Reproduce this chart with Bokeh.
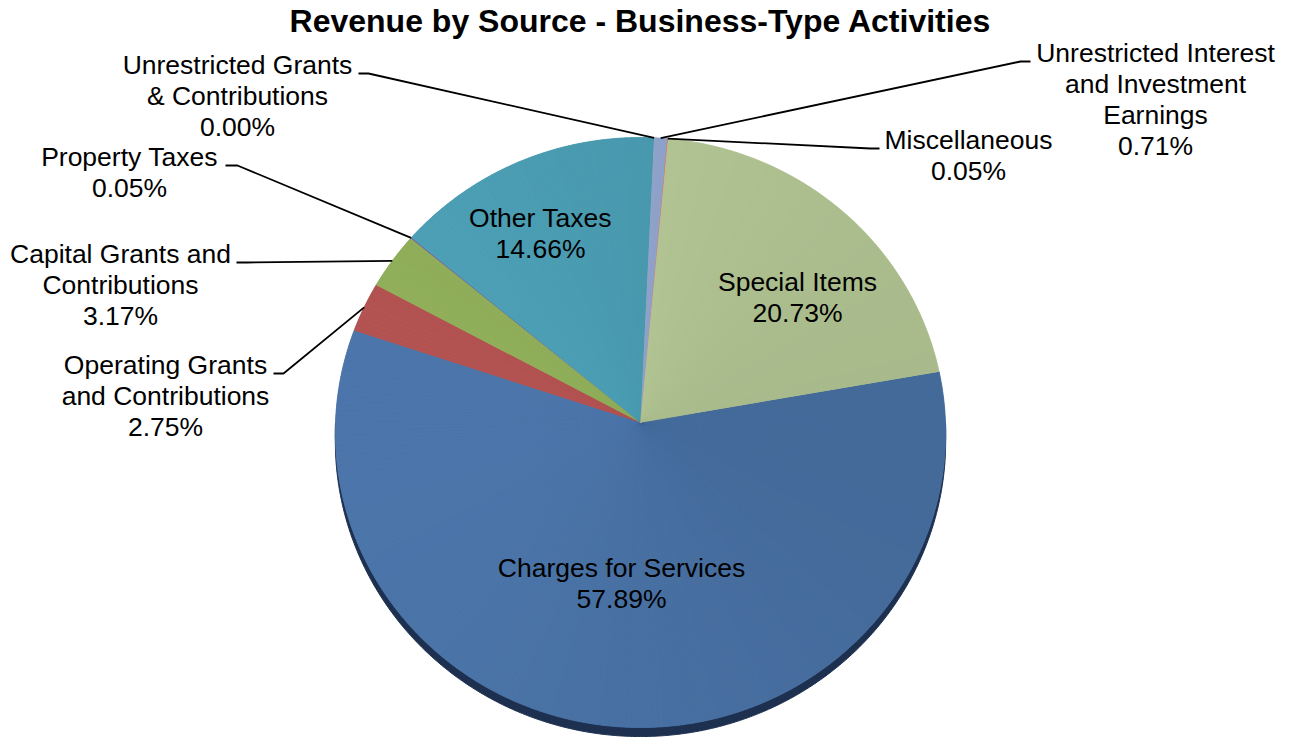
import math
from bokeh.plotting import figure
from bokeh.models import Range1d, ColumnDataSource
from bokeh.embed import file_html
from bokeh.resources import INLINE
from bokeh.core.properties import value

# ---------------- data ----------------
title_text = "Revenue by Source - Business-Type Activities"
categories = [
    "Charges for Services",
    "Operating Grants and Contributions",
    "Capital Grants and Contributions",
    "Property Taxes",
    "Other Taxes",
    "Unrestricted Grants & Contributions",
    "Unrestricted Interest and Investment Earnings",
    "Miscellaneous",
    "Special Items",
]
percents = [57.89, 2.75, 3.17, 0.05, 14.66, 0.00, 0.71, 0.05, 20.73]
label_lines = [
    ["Charges for Services"],
    ["Operating Grants", "and Contributions"],
    ["Capital Grants and", "Contributions"],
    ["Property Taxes"],
    ["Other Taxes"],
    ["Unrestricted Grants", "& Contributions"],
    ["Unrestricted Interest", "and Investment", "Earnings"],
    ["Miscellaneous"],
    ["Special Items"],
]
colors = ["#4870a2", "#aa4f4e", "#8aa756", "#7a5f99", "#4999ae",
          "#e08a3c", "#8fa2c9", "#d0807e", "#b2c493"]

# ---------------- layout ----------------
FIRST_ANGLE = 80.0          # first slice angle (degrees, clockwise from 12 o'clock)
CX, CY = 640.0, 422.0       # pie centre (page pixels)
RX, RY, K = 305.0, 294.7, 0.0339   # radii and perspective factor
DEPTH = 9.0
TEXT_DY = -9                # baseline correction for labels
label_pos = [(621, 576), (165, 373), (120, 262), (129, 165), (540, 226),
             (237, 73), (1155, 61), (968, 148), (797, 290)]
# leader lines: (label side point, elbow point); None = label inside slice
leader = [None, ((273, 373), (283, 373)), ((236, 262), (246, 262)),
          ((225, 165), (237, 165)), None, ((358, 73), (368, 73)),
          ((1030, 61), (1020, 61)), ((879, 148), (870, 148)), None]
LINE_H = 31
FONT = "Liberation Sans"


def proj(theta_deg, s=1.0):
    t = math.radians(theta_deg)
    u, v = math.sin(t), math.cos(t)
    d = 1.0 + K * v
    return CX + RX * s * u / d, CY - RY * s * v / d


def shade(hexcol, f):
    r, g, b = int(hexcol[1:3], 16), int(hexcol[3:5], 16), int(hexcol[5:7], 16)
    c = [max(0, min(255, int(round(x * f)))) for x in (r, g, b)]
    return "#%02x%02x%02x" % tuple(c)


W, H = 1293, 737
p = figure(width=W, height=H, output_backend="svg", toolbar_location=None,
           x_range=Range1d(0, W), y_range=Range1d(H, 0),
           min_border=0, x_axis_location=None, y_axis_location=None)
p.grid.visible = False
p.outline_line_color = None
p.background_fill_color = "white"
p.border_fill_color = "white"

# side (depth) of the 3D pie
arc = [proj(a) for a in [90 + i * 0.5 for i in range(361)]]
xs_side = [x for x, y in arc] + [x for x, y in reversed(arc)]
ys_side = [y + DEPTH for x, y in arc] + [y for x, y in reversed(arc)]
p.patch(xs_side, ys_side, fill_color="#1e3050", line_color="#1e3050", line_width=1)

# slices: solid base wedge + thin sub-wedges for a light left-to-right shading
total = sum(percents)
bxs, bys, bcol = [], [], []
pxs, pys, pcol = [], [], []
cum = 0.0
mids = []
for val, col in zip(percents, colors):
    a0 = FIRST_ANGLE + 360.0 * cum / total
    a1 = FIRST_ANGLE + 360.0 * (cum + val) / total
    mids.append((a0 + a1) / 2)
    cum += val
    span = a1 - a0
    if span <= 0:
        continue
    n = max(1, int(math.ceil(span / 1.0)))
    full = [proj(a0 + span * j / (n * 4)) for j in range(n * 4 + 1)]
    bxs.append([CX] + [q[0] for q in full]); bys.append([CY] + [q[1] for q in full])
    bcol.append(col)
    for i in range(n):
        b0 = a0 + span * i / n
        b1 = a0 + span * (i + 1) / n
        pts = [proj(b0 + (b1 - b0) * j / 4) for j in range(5)]
        um = math.sin(math.radians((b0 + b1) / 2))
        c = shade(col, 1.0 - 0.055 * um)
        pxs.append([CX] + [q[0] for q in pts]); pys.append([CY] + [q[1] for q in pts])
        pcol.append(c)
p.patches(xs=bxs, ys=bys, fill_color=bcol, line_color=bcol, line_width=0.8)
p.patches(xs=pxs, ys=pys, fill_color=pcol, line_color=None)

# leader lines
lx, ly = [], []
for ld, m in zip(leader, mids):
    if ld is None:
        continue
    (x0, y0), (x1, y1) = ld
    ex, ey = proj(m)
    lx.append([x0, x1, ex]); ly.append([y0, y1, ey])
p.multi_line(xs=lx, ys=ly, line_color="black", line_width=1.8)

# labels
tx, ty, tt = [], [], []
for lines, val, (x, y) in zip(label_lines, percents, label_pos):
    allines = lines + ["%.2f%%" % val]
    for i, s in enumerate(allines):
        tx.append(x); ty.append(y + TEXT_DY + i * LINE_H); tt.append(s)
src = ColumnDataSource(dict(x=tx, y=ty, text=tt))
p.text(x="x", y="y", text="text", source=src, text_align="center",
       text_baseline="alphabetic", text_font=value(FONT),
       text_font_size="26.5px", text_color="black")

# title
p.text(x=[640], y=[20], text=[title_text], text_align="center",
       text_baseline="alphabetic", text_font=value(FONT),
       text_font_size="32px", text_font_style="bold", text_color="black")

open("out.html", "w").write(file_html(p, INLINE))
